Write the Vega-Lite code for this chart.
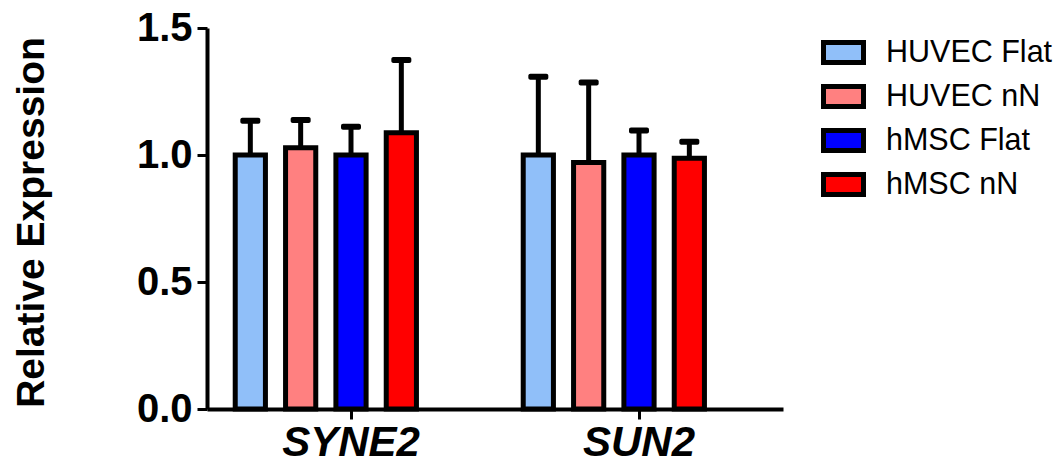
{
  "$schema": "https://vega.github.io/schema/vega-lite/v6.json",
  "autosize": {"type": "none"},
  "padding": {"left": 207, "top": 28, "right": 277, "bottom": 55},
  "width": 576,
  "height": 381,
  "background": "white",
  "config": {
    "view": {"stroke": null},
    "font": "Liberation Sans"
  },
  "data": {
    "values": [
      {"gene": "SYNE2", "group": "HUVEC Flat", "value": 1.0, "upper": 1.135},
      {"gene": "SYNE2", "group": "HUVEC nN", "value": 1.029, "upper": 1.138},
      {"gene": "SYNE2", "group": "hMSC Flat", "value": 1.0, "upper": 1.111},
      {"gene": "SYNE2", "group": "hMSC nN", "value": 1.088, "upper": 1.374},
      {"gene": "SUN2", "group": "HUVEC Flat", "value": 1.0, "upper": 1.308},
      {"gene": "SUN2", "group": "HUVEC nN", "value": 0.97, "upper": 1.285},
      {"gene": "SUN2", "group": "hMSC Flat", "value": 1.0, "upper": 1.096},
      {"gene": "SUN2", "group": "hMSC nN", "value": 0.987, "upper": 1.052}
    ]
  },
  "encoding": {
    "x": {
      "field": "gene", "type": "nominal", "sort": ["SYNE2", "SUN2"],
      "scale": {"paddingInner": 0.196, "paddingOuter": 0.098},
      "axis": {
        "title": null, "labelAngle": 0, "labelFont": "Liberation Sans", "labelFontSize": 42,
        "labelFontWeight": "bold", "labelFontStyle": "italic", "labelColor": "black",
        "labelPadding": 3, "domainColor": "black", "domainWidth": 4,
        "tickColor": "black", "tickWidth": 3, "tickSize": 10
      }
    },
    "xOffset": {
      "field": "group", "type": "nominal",
      "scale": {"domain": ["HUVEC Flat", "HUVEC nN", "hMSC Flat", "hMSC nN", "pad"], "paddingInner": 0.4, "paddingOuter": 0}
    }
  },
  "layer": [
    {
      "mark": {"type": "rule", "color": "black", "strokeWidth": 5},
      "encoding": {
        "y": {"field": "value", "type": "quantitative"},
        "y2": {"field": "upper"}
      }
    },
    {
      "mark": {"type": "tick", "color": "black", "size": 20, "thickness": 6, "orient": "horizontal", "opacity": 1, "cornerRadius": 2},
      "encoding": {
        "y": {"field": "upper", "type": "quantitative"}
      }
    },
    {
      "mark": {"type": "bar", "stroke": "black", "strokeWidth": 5, "strokeJoin": "miter"},
      "encoding": {
        "y": {
          "field": "value", "type": "quantitative",
          "scale": {"domain": [0, 1.5], "nice": false},
          "axis": {
            "title": "Relative Expression", "values": [0, 0.5, 1, 1.5], "format": ".1f",
            "labelFont": "Liberation Sans", "labelFontSize": 40, "labelFontWeight": "bold", "labelColor": "black",
            "labelPadding": 5, "domainColor": "black", "domainWidth": 4,
            "tickColor": "black", "tickWidth": 3, "tickSize": 10, "grid": false,
            "titleFont": "Liberation Sans", "titleFontSize": 39, "titleFontWeight": "bold", "titleColor": "black",
            "titleBaseline": "alphabetic", "titleAngle": -90, "titleAlign": "center",
            "titleX": -164, "titleY": 194
          }
        },
        "color": {
          "field": "group", "type": "nominal",
          "scale": {"domain": ["HUVEC Flat", "HUVEC nN", "hMSC Flat", "hMSC nN"], "range": ["#90BFF9", "#FF8080", "#0000FF", "#FF0000"]},
          "legend": {
            "title": null, "orient": "none", "legendX": 614, "legendY": 2, "padding": 0,
            "symbolType": "M-1,-0.5H1V0.5H-1Z", "symbolSize": 1600, "symbolStrokeColor": "black",
            "symbolStrokeWidth": 5, "symbolOpacity": 1,
            "labelFont": "Liberation Sans", "labelFontSize": 30.5, "labelColor": "black", "labelOffset": 20,
            "labelLimit": 400, "rowPadding": 1
          }
        }
      }
    }
  ]
}
